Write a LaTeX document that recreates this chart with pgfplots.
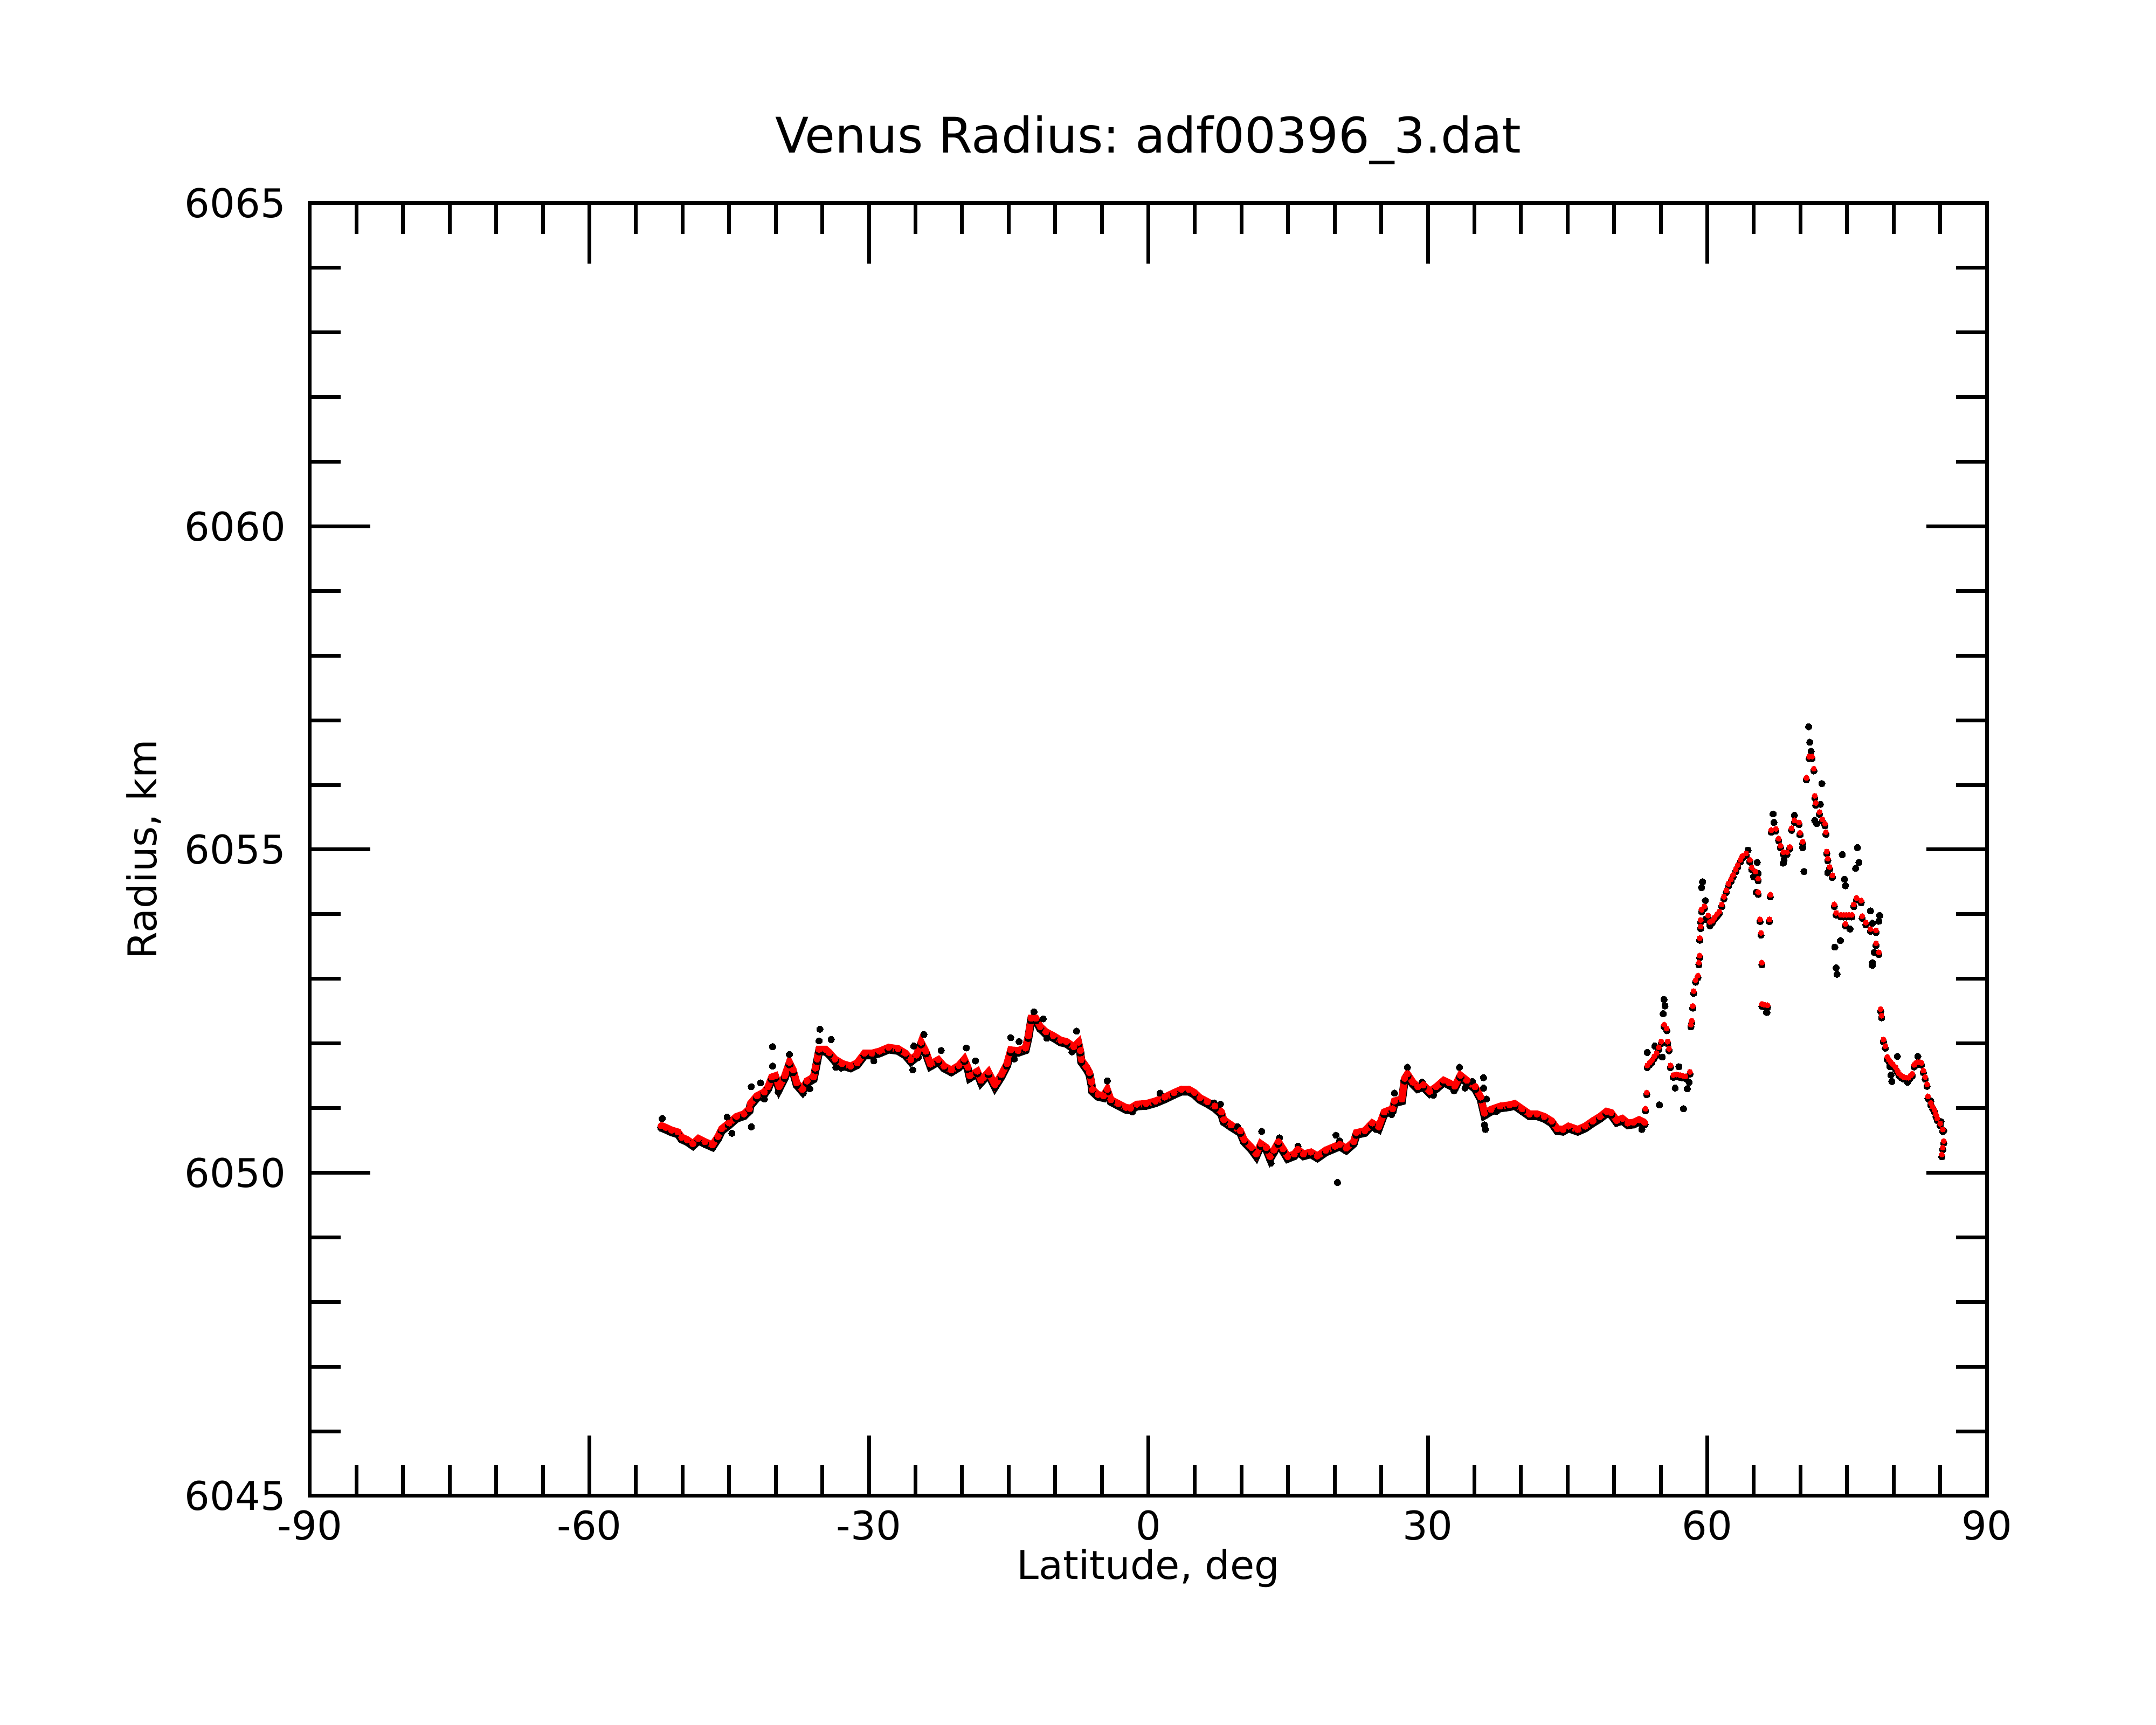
\documentclass[border=0pt]{standalone}
\usepackage{fontspec}
\setmainfont{DejaVu Sans}
\usepackage{pgfplots}
\usepackage{pgfplotstable}
\pgfplotsset{compat=1.18}
\frenchspacing

\pgfplotstableread{
lat r
-52.28 6050.73
-51.78 6050.70
-51.18 6050.66
-50.49 6050.63
-50.09 6050.55
-49.49 6050.51
-48.89 6050.45
-48.29 6050.53
-47.60 6050.48
-46.80 6050.43
-46.20 6050.56
-45.80 6050.68
-45.01 6050.77
-44.21 6050.87
-43.41 6050.91
-42.82 6050.99
-42.72 6051.07
-42.02 6051.19
-41.22 6051.25
-40.82 6051.33
-40.43 6051.48
-40.03 6051.50
-39.63 6051.33
-39.03 6051.50
-38.53 6051.71
-38.13 6051.59
-37.74 6051.39
-37.14 6051.29
-36.64 6051.42
-35.94 6051.48
-35.74 6051.62
-35.55 6051.76
-35.35 6051.91
-34.65 6051.91
-34.25 6051.86
-33.65 6051.76
-32.86 6051.69
-31.96 6051.65
-31.26 6051.70
-30.47 6051.85
-29.67 6051.85
-28.87 6051.88
-27.88 6051.94
-26.88 6051.92
-26.08 6051.85
-25.49 6051.75
-24.89 6051.82
-24.39 6052.02
-23.89 6051.88
-23.39 6051.68
-22.54 6051.75
-21.94 6051.65
-21.15 6051.59
-20.35 6051.66
-19.75 6051.76
-19.36 6051.63
-19.16 6051.50
-18.36 6051.57
-17.96 6051.43
-17.16 6051.56
-16.47 6051.36
-15.77 6051.52
-15.17 6051.69
-14.77 6051.90
-13.98 6051.89
-13.18 6051.93
-12.88 6052.12
-12.58 6052.39
-12.08 6052.39
-11.59 6052.26
-10.99 6052.18
-10.19 6052.12
-9.40 6052.05
-8.80 6052.03
-8.00 6051.95
-7.50 6052.02
-7.30 6051.89
-7.20 6051.75
-6.61 6051.63
-6.31 6051.55
-6.11 6051.40
-6.01 6051.29
-5.41 6051.21
-4.81 6051.19
-4.41 6051.29
-4.02 6051.13
-3.22 6051.07
-2.42 6051.01
-1.92 6051.00
-1.23 6051.06
-0.23 6051.07
0.76 6051.11
1.76 6051.17
2.76 6051.24
3.55 6051.29
4.35 6051.29
4.95 6051.24
5.54 6051.16
6.34 6051.10
7.14 6051.03
7.84 6050.94
8.09 6050.82
8.89 6050.74
9.88 6050.65
10.28 6050.51
11.08 6050.39
11.58 6050.29
12.07 6050.45
12.67 6050.39
13.07 6050.25
13.47 6050.35
13.97 6050.48
14.46 6050.37
14.96 6050.25
15.66 6050.29
16.06 6050.36
16.66 6050.29
17.45 6050.32
18.15 6050.26
19.05 6050.35
20.04 6050.41
20.54 6050.44
21.24 6050.38
22.03 6050.48
22.33 6050.62
23.23 6050.65
24.03 6050.77
24.72 6050.71
25.32 6050.94
26.22 6050.99
26.42 6051.11
27.21 6051.14
27.51 6051.46
27.81 6051.53
28.41 6051.40
28.91 6051.33
29.51 6051.36
30.20 6051.26
30.90 6051.33
31.70 6051.43
32.29 6051.39
32.89 6051.34
33.49 6051.51
34.19 6051.43
35.08 6051.33
35.68 6051.17
36.08 6050.92
36.78 6050.98
37.77 6051.03
38.77 6051.05
39.32 6051.07
40.12 6050.99
40.91 6050.91
41.71 6050.91
42.51 6050.87
43.30 6050.80
43.90 6050.68
44.50 6050.67
45.10 6050.72
46.09 6050.67
46.89 6050.72
47.69 6050.80
48.48 6050.87
49.18 6050.95
49.68 6050.93
50.28 6050.81
50.87 6050.84
51.47 6050.77
52.07 6050.78
52.67 6050.82
53.26 6050.78
}\reddense

\pgfplotstableread{
lat r
53.36 6050.99
53.50 6051.24
53.56 6051.66
53.80 6051.70
54.06 6051.74
54.30 6051.80
54.56 6051.85
54.80 6051.94
55.06 6052.03
55.36 6052.29
55.65 6052.23
55.75 6052.03
55.89 6051.92
56.05 6051.66
56.35 6051.51
56.70 6051.52
57.05 6051.51
57.35 6051.50
57.65 6051.49
58.14 6051.56
58.24 6052.29
58.34 6052.35
58.44 6052.58
58.54 6052.81
58.74 6052.98
58.99 6053.05
59.10 6053.25
59.19 6053.36
59.19 6053.63
59.29 6053.81
59.29 6053.91
59.39 6054.07
59.69 6054.12
60.09 6053.98
60.28 6053.88
60.55 6053.90
60.78 6053.95
61.05 6054.00
61.28 6054.04
61.55 6054.15
61.78 6054.27
62.05 6054.37
62.28 6054.47
62.55 6054.54
62.77 6054.61
63.05 6054.69
63.27 6054.76
63.55 6054.84
63.77 6054.90
64.17 6054.94
64.57 6054.84
64.77 6054.72
65.17 6054.66
65.46 6054.55
65.46 6054.34
65.66 6053.92
65.76 6053.71
65.86 6053.25
65.86 6052.61
66.10 6052.60
66.46 6052.59
66.66 6053.92
66.76 6054.30
66.86 6055.30
67.36 6055.32
67.66 6055.17
67.86 6055.06
68.15 6054.96
68.55 6054.96
68.85 6055.04
69.05 6055.33
69.35 6055.45
69.85 6055.42
69.95 6055.26
70.24 6055.12
70.64 6056.11
70.94 6056.44
71.24 6056.44
71.44 6056.25
71.54 6055.83
71.64 6055.72
72.04 6055.58
72.34 6055.47
72.63 6055.40
72.73 6055.27
72.83 6054.97
72.93 6054.86
73.13 6054.73
73.43 6054.60
73.63 6054.15
73.83 6054.02
74.33 6053.99
74.63 6053.99
74.93 6053.99
75.22 6053.99
75.52 6053.99
74.83 6053.85
75.72 6054.15
76.02 6054.25
76.52 6054.21
76.62 6053.97
77.02 6053.87
77.52 6053.77
78.11 6053.75
78.11 6053.55
78.41 6053.41
78.61 6052.53
78.71 6052.43
78.91 6052.06
79.11 6051.96
79.31 6051.79
79.50 6051.75
79.71 6051.71
79.90 6051.68
80.21 6051.63
80.40 6051.58
80.60 6051.53
80.85 6051.50
81.10 6051.48
81.35 6051.47
81.60 6051.47
81.80 6051.50
82.00 6051.53
82.20 6051.67
82.40 6051.70
82.60 6051.71
82.80 6051.71
82.99 6051.70
83.19 6051.58
83.39 6051.48
83.59 6051.37
83.69 6051.18
83.99 6051.08
84.20 6051.02
84.39 6050.97
84.55 6050.90
84.69 6050.84
85.00 6050.76
85.28 6050.67
85.38 6050.49
85.28 6050.39
85.18 6050.28
}\redsparse

\pgfplotstableread{
lat r
-52.18 6050.84
-45.21 6050.86
-44.71 6050.61
-42.62 6050.71
-42.62 6051.33
-41.62 6051.39
-41.22 6051.14
-40.33 6051.95
-40.33 6051.65
-39.73 6051.25
-38.53 6051.83
-37.04 6051.23
-36.34 6051.30
-35.25 6052.22
-35.35 6052.04
-34.05 6052.06
-33.55 6051.63
-32.96 6051.62
-29.47 6051.73
-25.18 6051.96
-25.28 6051.59
-24.69 6051.78
-24.09 6052.14
-22.24 6051.89
-19.55 6051.93
-18.56 6051.73
-14.77 6052.09
-13.88 6052.03
-14.38 6051.76
-12.28 6052.49
-11.29 6052.38
-10.89 6052.08
-7.70 6052.19
-8.20 6051.87
-4.41 6051.42
-1.72 6050.94
1.26 6051.23
7.04 6051.08
7.74 6051.06
9.58 6050.71
12.17 6050.64
13.17 6050.15
14.07 6050.54
16.06 6050.41
20.14 6050.58
20.30 6049.85
20.54 6050.49
24.42 6050.67
26.12 6050.90
26.42 6051.23
27.81 6051.63
29.40 6051.40
30.60 6051.20
32.79 6051.27
33.39 6051.63
33.99 6051.31
34.78 6051.41
35.98 6051.47
35.98 6051.31
36.28 6051.14
36.08 6050.74
36.18 6050.67
37.37 6050.95
52.97 6050.67
53.56 6051.86
54.36 6051.96
55.16 6051.79
55.26 6052.46
55.36 6052.68
55.46 6052.58
54.86 6051.05
56.55 6051.31
56.95 6051.64
57.45 6050.99
57.85 6051.30
58.05 6051.40
59.39 6054.41
59.49 6054.50
59.79 6054.21
59.79 6053.92
60.28 6053.82
64.37 6054.99
64.97 6054.58
65.26 6054.34
65.36 6054.80
65.46 6054.63
66.36 6052.48
66.41 6052.48
67.06 6055.55
67.16 6055.42
68.15 6054.79
68.25 6054.84
69.35 6055.53
70.24 6055.03
70.38 6054.66
70.88 6056.90
71.00 6056.66
71.14 6056.52
71.54 6055.45
71.74 6055.40
72.14 6055.70
72.30 6056.02
72.93 6054.64
73.69 6053.49
73.83 6053.17
73.93 6053.07
74.29 6053.59
74.49 6054.92
74.73 6054.54
74.83 6054.44
75.32 6053.77
75.92 6054.71
76.12 6055.03
76.28 6054.80
77.52 6054.05
77.71 6053.21
77.72 6053.25
77.72 6053.86
77.91 6053.41
78.41 6053.89
78.51 6053.98
79.61 6051.64
79.71 6051.51
79.81 6051.41
80.40 6051.80
81.50 6051.40
82.60 6051.80
83.99 6051.11
85.08 6050.79
85.38 6050.65
}\blackpts

\begin{document}
\begin{tikzpicture}
\path[use as bounding box] (-57.5pt,-42.5pt) rectangle (342.5pt,277.5pt);
\begin{axis}[
  at={(0pt,0pt)}, anchor=south west,
  width=311.1pt, height=239.8pt, scale only axis,
  xmin=-90, xmax=90, ymin=6045, ymax=6065,
  xtick={-90,-60,-30,0,30,60,90},
  xticklabels={-90,-60,-30,0,30,60,90},
  ytick={6045,6050,6055,6060,6065},
  yticklabels={6045,6050,6055,6060,6065},
  minor x tick num=5, minor y tick num=4,
  tick align=inside, tick pos=both,
  major tick length=11.2pt, minor tick length=5.7pt,
  every tick/.style={black, line width=0.7pt},
  axis line style={line width=0.7pt},
  tick label style={font=\fontsize{7.35pt}{9pt}\selectfont, inner sep=0pt},
  xticklabel style={anchor=north, yshift=-2.5pt},
  yticklabel style={anchor=east, xshift=-4.3pt},
  label style={font=\fontsize{7.35pt}{9pt}\selectfont, inner sep=0pt},
  xlabel={Latitude, deg},
  ylabel={Radius, km},
  xlabel style={at={(axis description cs:0.5,0)}, anchor=base, yshift=-15.5pt},
  ylabel style={at={(axis description cs:0,0.5)}, anchor=base, yshift=28.4pt},
  title={Venus Radius: adf00396\_3.dat},
  title style={font=\fontsize{9.1pt}{11pt}\selectfont, at={(axis description cs:0.5,1)}, anchor=base, inner sep=0pt, yshift=3.3pt},
]
\addplot[black, line width=1.5pt, mark=*, mark size=0.7pt, mark options={line width=0pt}, yshift=-0.4pt] table[x=lat,y=r] {\reddense};
\addplot[black, only marks, mark=*, mark size=0.6pt, mark options={line width=0pt}, yshift=-0.4pt] table[x=lat,y=r] {\redsparse};
\addplot[black, only marks, mark=*, mark size=0.6pt, mark options={line width=0pt}] table[x=lat,y=r] {\blackpts};
\addplot[red, line width=1.3pt, mark=*, mark size=0.6pt, mark options={line width=0pt}] table[x=lat,y=r] {\reddense};
\addplot[red, only marks, mark=*, mark size=0.5pt, mark options={line width=0pt}] table[x=lat,y=r] {\redsparse};
\end{axis}
\end{tikzpicture}
\end{document}
